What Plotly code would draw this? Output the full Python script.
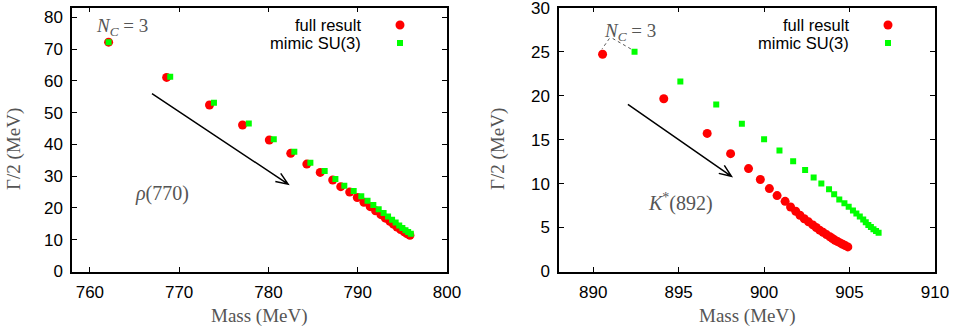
import math
import plotly.graph_objects as go

# ---------------- data ----------------
rho_full_mass = [762.1, 768.6, 773.4, 777.1, 780.1, 782.5, 784.3, 785.8, 787.2, 788.1, 789.1, 789.95,
                 790.7, 791.4, 792.0, 792.6, 793.1, 793.6, 794.0, 794.4, 794.8, 795.2, 795.5, 795.85]
rho_full_width = [72.2, 61.1, 52.4, 46.1, 41.4, 37.2, 33.8, 31.2, 28.8, 26.7, 25.0, 23.3,
                  21.8, 20.4, 19.1, 17.9, 16.8, 15.8, 14.9, 14.0, 13.2, 12.5, 11.9, 11.4]
rho_su3_mass = [762.1, 769.0, 773.9, 777.8, 780.6, 782.9, 784.7, 786.3, 787.5, 788.5, 789.55, 790.4,
                791.1, 791.75, 792.35, 792.9, 793.4, 793.85, 794.25, 794.65, 795.0, 795.35, 795.65, 795.95]
rho_su3_width = [72.2, 61.3, 53.1, 46.6, 41.6, 37.7, 34.2, 31.6, 29.1, 27.0, 25.3, 23.7,
                 22.3, 20.9, 19.6, 18.4, 17.3, 16.3, 15.4, 14.5, 13.7, 12.95, 12.4, 11.9]

kst_full_mass = [890.55, 894.13, 896.67, 898.04, 899.09, 899.78, 900.31, 900.76, 901.23, 901.55,
                 901.85, 902.1, 902.35, 902.6, 902.85, 903.05, 903.25, 903.45, 903.65, 903.85,
                 904.0, 904.15, 904.3, 904.45, 904.6, 904.75, 904.9]
kst_full_width = [24.7, 19.65, 15.7, 13.4, 11.7, 10.46, 9.43, 8.63, 7.98, 7.33,
                  6.85, 6.4, 6.0, 5.65, 5.3, 5.0, 4.7, 4.45, 4.2, 3.95,
                  3.75, 3.55, 3.4, 3.25, 3.1, 2.95, 2.8]
kst_su3_mass = [892.42, 895.1, 897.2, 898.7, 900.0, 900.9, 901.7, 902.4, 902.9, 903.35, 903.8, 904.1,
                904.4, 904.7, 904.95, 905.2, 905.4, 905.6, 905.8, 905.95, 906.1, 906.25, 906.4,
                906.55, 906.7]
kst_su3_width = [25.0, 21.6, 19.0, 16.8, 15.05, 13.76, 12.54, 11.55, 10.7, 10.0, 9.35, 8.78,
                 8.2, 7.75, 7.35, 6.95, 6.6, 6.25, 5.9, 5.6, 5.3, 5.05, 4.8, 4.6, 4.4]

left_xticks = [760, 770, 780, 790, 800]
left_yticks = [0, 10, 20, 30, 40, 50, 60, 70, 80]
right_xticks = [890, 895, 900, 905, 910]
right_yticks = [0, 5, 10, 15, 20, 25, 30]

series_names = ["full result", "mimic SU(3)"]

# ---------------- layout geometry ----------------
W, H = 954, 329
L_X = [72, 447]
R_X = [559, 935]
Y_PX = [7.5, 271.5]  # top, bottom in pixels
left_xrange = [758, 800]
left_yrange = [0, 83.1]
right_xrange = [888, 910]
right_yrange = [0, 30.02]

def dom_x(px):
    return [px[0] / W, px[1] / W]

ydom = [(H - Y_PX[1]) / H, (H - Y_PX[0]) / H]

RED = "#ff0000"
GREEN = "#00ff00"
GRAY = "#555555"
SERIF = "Liberation Serif"
SANS = "Liberation Sans"

fig = go.Figure()
fig.add_trace(go.Scatter(x=rho_full_mass, y=rho_full_width, mode="markers", xaxis="x", yaxis="y",
                         marker=dict(symbol="circle", size=9, color=RED), name=series_names[0], showlegend=False))
fig.add_trace(go.Scatter(x=rho_su3_mass, y=rho_su3_width, mode="markers", xaxis="x", yaxis="y",
                         marker=dict(symbol="square", size=6, color=GREEN), name=series_names[1], showlegend=False))
fig.add_trace(go.Scatter(x=kst_full_mass, y=kst_full_width, mode="markers", xaxis="x2", yaxis="y2",
                         marker=dict(symbol="circle", size=9, color=RED), name=series_names[0], showlegend=False))
fig.add_trace(go.Scatter(x=kst_su3_mass, y=kst_su3_width, mode="markers", xaxis="x2", yaxis="y2",
                         marker=dict(symbol="square", size=6, color=GREEN), name=series_names[1], showlegend=False))

axis_common = dict(showgrid=False, zeroline=False, showline=True, linecolor="black", linewidth=1.5,
                   mirror="ticks", ticks="inside", ticklen=5, tickwidth=1, tickcolor="black",
                   ticklabeloverflow="allow", ticklabelstandoff=4, automargin=False,
                   tickfont=dict(family=SANS, size=17, color="black"))

fig.update_layout(
    width=W, height=H, margin=dict(l=0, r=0, t=0, b=0),
    paper_bgcolor="white", plot_bgcolor="white", showlegend=False,
    xaxis=dict(domain=dom_x(L_X), range=left_xrange, tickvals=left_xticks, anchor="y", **axis_common),
    yaxis=dict(domain=ydom, range=left_yrange, tickvals=left_yticks, anchor="x", **axis_common),
    xaxis2=dict(domain=dom_x(R_X), range=right_xrange, tickvals=right_xticks, anchor="y2", **axis_common),
    yaxis2=dict(domain=ydom, range=right_yrange, tickvals=right_yticks, anchor="x2", **axis_common),
)

annotations = []
shapes = []

# axis titles
for px in (L_X, R_X):
    annotations.append(dict(text="Mass (MeV)", xref="paper", yref="paper", x=(px[0] + px[1]) / 2 / W,
                            y=1 - 316 / H, xanchor="center", yanchor="middle", showarrow=False,
                            font=dict(family=SERIF, size=19, color=GRAY)))
for xc in (14, 498):
    annotations.append(dict(text="Γ/2 (MeV)", xref="paper", yref="paper", x=xc / W, y=1 - 149 / H,
                            xanchor="center", yanchor="middle",
                            textangle=-90, showarrow=False, font=dict(family=SERIF, size=19, color=GRAY)))

# legends (text right aligned, symbol to the right)
for text_right, sym_x in ((363, 400), (851, 888)):
    for i, (yy, name) in enumerate(zip((25, 43), series_names)):
        annotations.append(dict(text=name, xref="paper", yref="paper", x=text_right / W, y=1 - yy / H,
                                xanchor="right", yanchor="middle", showarrow=False,
                                font=dict(family=SANS, size=16.5, color="black")))
    shapes.append(dict(type="circle", xref="paper", yref="paper", xsizemode="pixel", ysizemode="pixel",
                       xanchor=sym_x / W, yanchor=1 - 25 / H, x0=-4.5, x1=4.5, y0=-4.5, y1=4.5,
                       fillcolor=RED, line=dict(width=0)))
    shapes.append(dict(type="rect", xref="paper", yref="paper", xsizemode="pixel", ysizemode="pixel",
                       xanchor=sym_x / W, yanchor=1 - 43 / H, x0=-3, x1=3, y0=-3, y1=3,
                       fillcolor=GREEN, line=dict(width=0)))

# N_C labels
nc_text = "<i>N</i><sub><i>C</i></sub> = 3"
annotations.append(dict(text=nc_text, xref="x", yref="y", x=763.6, y=77.1, showarrow=False,
                        xanchor="center", yanchor="middle",
                        font=dict(family=SERIF, size=19, color=GRAY)))
annotations.append(dict(text=nc_text, xref="x2", yref="y2", x=892.13, y=27.25, showarrow=False,
                        xanchor="center", yanchor="middle",
                        font=dict(family=SERIF, size=19, color=GRAY)))
shapes.append(dict(type="line", xref="x2", yref="y2", x0=890.95, y0=26.5, x1=890.51, y1=25.28,
                   line=dict(color=GRAY, width=1, dash="dot")))
shapes.append(dict(type="line", xref="x2", yref="y2", x0=891.14, y0=26.5, x1=892.23, y1=25.28,
                   line=dict(color=GRAY, width=1, dash="dot")))

# resonance labels
annotations.append(dict(text="<i>ρ</i>(770)", xref="x", yref="y", x=768.1, y=24.7, showarrow=False,
                        xanchor="center", yanchor="middle",
                        font=dict(family=SERIF, size=20, color=GRAY)))
annotations.append(dict(text="<i>K</i><sup>*</sup>(892)", xref="x2", yref="y2", x=895.1, y=7.8,
                        xanchor="center", yanchor="middle",
                        showarrow=False, font=dict(family=SERIF, size=20, color=GRAY)))

# arrows with open heads
def arrow(xref, yref, x0, y0, x1, y1, xr, yr, pxr, pyr):
    sx = (pxr[1] - pxr[0]) / (xr[1] - xr[0])
    sy = (pyr[1] - pyr[0]) / (yr[1] - yr[0])
    dx = (x1 - x0) * sx
    dy = (y1 - y0) * sy
    ang = math.atan2(dy, dx)
    hl = 13
    pts = []
    for da in (math.radians(22), -math.radians(22)):
        a = ang + math.pi + da
        pts.append((x1 + hl * math.cos(a) / sx, y1 + hl * math.sin(a) / sy))
    path = (f"M {x0},{y0} L {x1},{y1} M {pts[0][0]},{pts[0][1]} L {x1},{y1} L {pts[1][0]},{pts[1][1]}")
    return dict(type="path", xref=xref, yref=yref, path=path, line=dict(color="black", width=1.5))

shapes.append(arrow("x", "y", 766.96, 56.0, 782.2, 27.5, left_xrange, left_yrange,
                    L_X, [0, Y_PX[1] - Y_PX[0]]))
shapes.append(arrow("x2", "y2", 892.03, 19.0, 898.09, 10.83, right_xrange, right_yrange,
                    R_X, [0, Y_PX[1] - Y_PX[0]]))

fig.update_layout(annotations=annotations, shapes=shapes)

fig.write_html("out.html", config={"displayModeBar": False},
               post_script="document.body.style.margin='0';document.body.style.overflow='hidden';")
